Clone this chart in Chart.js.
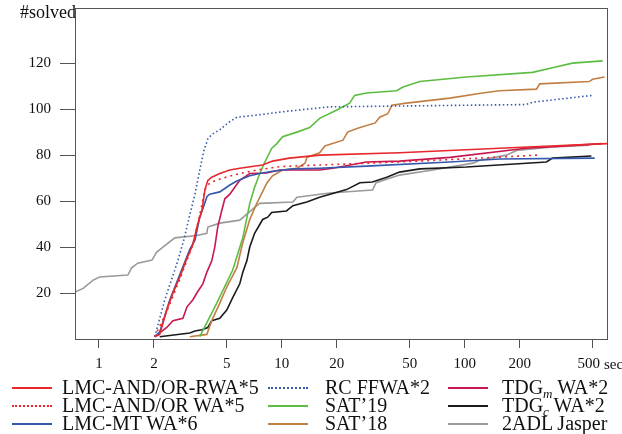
<!DOCTYPE html>
<html>
<head>
<meta charset="utf-8">
<script src="https://cdn.jsdelivr.net/npm/chart.js@4.4.1/dist/chart.umd.min.js"></script>
<style>
body { margin: 0; background: #fff; font-family: "Liberation Serif", serif; color: #111; }
#wrap { position: relative; width: 622px; height: 434px; overflow: hidden; }
#chart { position: absolute; left: 0; top: 0; }
#ylab { position: absolute; left: 20px; top: 2px; font-size: 18px; }
#sec { position: absolute; left: 604px; top: 356px; font-size: 15px; }
.item { position: absolute; font-size: 20px; line-height: 20px; white-space: nowrap; }
.item .sw { position: absolute; top: 9px; width: 40px; height: 0; }
.item .tx { position: absolute; top: -1px; }
.item .sb { font-style: italic; font-size: 13px; vertical-align: -4px; line-height: 13px; }
</style>
</head>
<body>
<div id="wrap">
  <canvas id="chart" width="622" height="380"></canvas>
  <div id="ylab">#solved</div>
  <div id="sec">sec</div>
  <div id="legend"></div>
</div>
<script>
// tick labels
var xTicks = [1, 2, 5, 10, 20, 50, 100, 200, 500];
var yTicks = [20, 40, 60, 80, 100, 120];

// series: time (sec) and #solved
var rwaTime = [2.02, 2.15, 2.35, 2.54, 2.77, 2.99, 3.26, 3.47, 3.66, 3.8, 3.94, 4.14, 4.58, 5.2, 5.89, 7.86, 8.9, 11, 16.1, 44, 155, 600];
var rwaSolved = [1, 2, 12.6, 20, 27, 34, 41, 50, 56, 65, 69, 70.4, 72, 73.5, 74.3, 75.7, 77.4, 78.7, 80, 81, 83, 85];

var wa5Time = [2.02, 2.35, 2.77, 3.26, 3.56, 3.8, 4.04, 4.76, 5.89, 7.3, 9.75, 16.1, 44, 121, 250];
var wa5Solved = [1, 12, 26, 41, 54, 65, 68, 70, 72, 73.5, 75, 75.7, 77, 78.7, 80];

var mtTime = [2.02, 2.15, 2.44, 2.77, 3.14, 3.35, 3.56, 3.75, 3.9, 4.04, 4.58, 5.2, 5.68, 6.68, 7.58, 8.9, 11.5, 16.1, 29, 83, 155, 514];
var mtSolved = [1, 3, 17, 28, 39, 43, 53, 58, 62, 63, 64, 67, 68.7, 71, 72, 73, 74, 74.3, 75.2, 77, 78.3, 78.7];

var rcTime = [2.02, 2.29, 2.5, 2.7, 2.91, 3.14, 3.35, 3.56, 3.75, 3.94, 4.14, 4.58, 5.07, 5.68, 7.3, 9.75, 13.7, 18.3, 217, 235, 302, 500];
var rcSolved = [1, 17, 26, 34, 43, 54, 63, 73.5, 82, 87, 89, 91, 94, 96.5, 97.4, 98.7, 100, 101, 102, 103, 104, 106];

var sat19Time = [3.56, 4.41, 5.39, 6.12, 6.68, 7.1, 7.58, 8.08, 8.82, 9.4, 10.1, 12.1, 14.2, 16.1, 20, 23.5, 25, 29, 42.4, 46, 56.8, 102, 235, 302, 388, 568];
var sat19Solved = [1, 15.6, 30, 44, 59, 66, 72, 77, 83, 85, 88, 90, 92, 96, 99.6, 102.6, 106, 107, 108, 109.6, 112, 114, 116, 118, 120, 121];

var sat18Time = [3.14, 3.89, 4.14, 4.58, 5, 5.68, 6.12, 6.68, 7.3, 7.78, 8.3, 8.9, 10.1, 12.1, 13.4, 13.7, 16.1, 17.2, 21.6, 22.9, 26, 32.4, 34.3, 38, 40, 48, 83, 125, 155, 247, 257, 480, 500, 582];
var sat18Solved = [1, 2, 8, 15.6, 22.6, 31, 42, 52, 59, 63.5, 68, 71, 73.5, 74.3, 76.5, 79, 81, 84, 86.5, 90, 91.7, 94, 96.5, 98, 101.7, 102.6, 104.8, 107, 108, 108.7, 111, 112, 113, 114];

var tdgmTime = [2.02, 2.35, 2.54, 2.88, 3.03, 3.26, 3.43, 3.7, 3.89, 4.14, 4.3, 4.47, 4.7, 4.88, 5.2, 5.53, 5.89, 6.68, 8.25, 9.75, 16.1, 19, 29, 44, 83, 217, 360, 560];
var tdgmSolved = [1, 5, 8, 9, 14, 17, 20, 24, 29, 34, 40, 49, 56, 61, 63, 66, 69, 72, 72.2, 73.5, 73.5, 74.3, 77, 77.4, 79, 83, 84, 85];

var tdgcTime = [2.15, 3.14, 3.35, 3.66, 3.94, 4.14, 4.58, 5, 5.39, 5.89, 6.12, 6.44, 6.68, 7.1, 7.86, 8.38, 8.8, 10.6, 11.5, 13.7, 16.1, 22.6, 26.7, 31.3, 37.5, 44, 56.8, 102, 280, 302, 493];
var tdgcSolved = [1, 2.6, 3.5, 4, 5, 8, 9, 12.6, 18, 24, 29, 34, 40, 46, 52, 53, 55, 55.7, 58, 59.6, 61.7, 65, 68, 68.3, 70.4, 72.6, 74, 74.8, 77, 78.7, 79.6];

var adlTime = [0.74, 0.82, 0.93, 1.01, 1.44, 1.51, 1.63, 1.95, 2.07, 2.24, 2.6, 3.43, 3.89, 3.94, 4.58, 5.89, 7.3, 7.58, 11.5, 12.1, 18.3, 31.3, 32.8, 44, 67, 111, 121, 169, 192, 302, 481];
var adlSolved = [20.4, 22, 25.6, 27, 27.8, 31, 33, 34.3, 37.8, 40, 44, 45, 46, 48.7, 50.4, 51.7, 58, 59, 59.6, 61.7, 63.5, 64.8, 68, 71.3, 73.5, 76.5, 77.8, 80, 82, 83.5, 84.3];

var labels = ['LMC-AND/OR-RWA*5', 'LMC-AND/OR WA*5', 'LMC-MT WA*6',
              'RC FFWA*2', 'SAT’19', 'SAT’18',
              'TDG<span class="sb">m</span> WA*2', 'TDG<span class="sb">c</span> WA*2', '2ADL Jasper'];

function pts(t, n) {
    var out = [];
    for (var i = 0; i < t.length; i++) out.push({x: t[i], y: n[i]});
    return out;
}

var series = [
    {data: pts(rwaTime, rwaSolved), color: '#e8282c', dash: []},
    {data: pts(wa5Time, wa5Solved), color: '#e8282c', dash: [2, 4]},
    {data: pts(mtTime, mtSolved), color: '#3557ad', dash: []},
    {data: pts(rcTime, rcSolved), color: '#3557ad', dash: [1.5, 2.5]},
    {data: pts(sat19Time, sat19Solved), color: '#5cbd42', dash: []},
    {data: pts(sat18Time, sat18Solved), color: '#c27f43', dash: []},
    {data: pts(tdgmTime, tdgmSolved), color: '#c8174e', dash: []},
    {data: pts(tdgcTime, tdgcSolved), color: '#1b1b1b', dash: []},
    {data: pts(adlTime, adlSolved), color: '#9a9a9a', dash: []}
];

var datasets = series.map(function(s, i) {
    return {
        label: labels[i],
        data: s.data,
        borderColor: s.color,
        borderDash: s.dash,
        borderWidth: 1.6,
        pointRadius: 0,
        tension: 0,
        fill: false
    };
});

var frame = {
    id: 'frame',
    afterDraw: function(chart) {
        var a = chart.chartArea, ctx = chart.ctx;
        ctx.save();
        ctx.strokeStyle = '#555';
        ctx.lineWidth = 1;
        ctx.strokeRect(Math.round(a.left) + 0.5, Math.round(a.top) + 0.5,
                       Math.round(a.right - a.left), Math.round(a.bottom - a.top));
        ctx.restore();
    }
};

var tickFont = {family: '"Liberation Serif", serif', size: 15};

new Chart(document.getElementById('chart'), {
    type: 'line',
    data: {datasets: datasets},
    plugins: [frame],
    options: {
        responsive: false,
        animation: false,
        devicePixelRatio: 1,
        layout: {padding: {left: 0, right: 15, top: 8, bottom: 0}},
        plugins: {legend: {display: false}, tooltip: {enabled: false}},
        scales: {
            x: {
                type: 'logarithmic',
                bounds: 'data',
                min: 0.74,
                max: 600,
                afterBuildTicks: function(s) { s.ticks = xTicks.map(function(v) { return {value: v}; }); },
                afterFit: function(s) { s.height = 41; s.paddingLeft = 0; s.paddingRight = 0; },
                ticks: {font: tickFont, color: '#111', padding: 7, maxRotation: 0, autoSkip: false,
                        // trailing en space nudges "500" left to leave room for "sec"
                        callback: function(v) { return v === 500 ? '500\u2002' : String(v); }},
                grid: {drawOnChartArea: false, drawTicks: true, tickLength: 9, color: '#555'},
                border: {display: false}
            },
            y: {
                bounds: 'data',
                min: 0,
                max: 144,
                afterBuildTicks: function(s) { s.ticks = yTicks.map(function(v) { return {value: v}; }); },
                afterFit: function(s) { s.width = 75; s.paddingTop = 0; s.paddingBottom = 0; },
                ticks: {font: tickFont, color: '#111', padding: 9},
                grid: {drawOnChartArea: false, drawTicks: true, tickLength: 15, color: '#555'},
                border: {display: false}
            }
        }
    }
});

// legend, 3 columns x 3 rows
var colX = [12, 268, 448];
var textX = [62, 325, 502];
var rowY = [378, 396, 414];
var leg = document.getElementById('legend');
series.forEach(function(s, i) {
    var c = Math.floor(i / 3), r = i % 3;
    var d = document.createElement('div');
    d.className = 'item';
    d.style.left = '0px';
    d.style.top = rowY[r] + 'px';
    var style = s.dash.length ? 'dotted' : 'solid';
    d.innerHTML = '<span class="sw" style="left:' + colX[c] + 'px;border-top:2px ' + style + ' ' + s.color + '"></span>' +
                  '<span class="tx" style="left:' + textX[c] + 'px">' + labels[i] + '</span>';
    leg.appendChild(d);
});
</script>
</body>
</html>
